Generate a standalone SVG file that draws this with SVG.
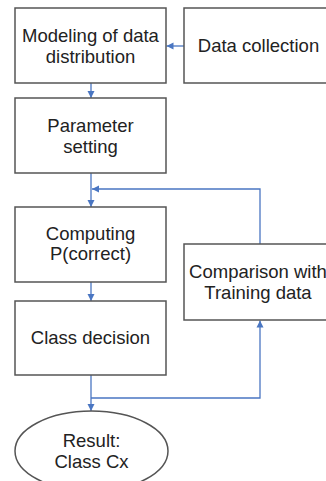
<svg xmlns="http://www.w3.org/2000/svg" width="326" height="481" viewBox="0 0 326 481">
<style>
.box{fill:#fff;stroke:#555;stroke-width:1.5}
.t{font-family:"Liberation Sans",Arial,sans-serif;font-size:18.5px;fill:#222;text-anchor:middle}
.c{fill:none;stroke:#4A76C2;stroke-width:1.3}
</style>
<defs>
<marker id="ah" viewBox="0 0 10 10" refX="10" refY="5" markerWidth="7" markerHeight="8" markerUnits="userSpaceOnUse" orient="auto">
<path d="M0,0 L10,5 L0,10 z" fill="#4A76C2"/>
</marker>
</defs>
<rect width="326" height="481" fill="#fff"/>
<g id="connectors">
<path class="c" d="M184,46 H166.5" marker-end="url(#ah)"/>
<path class="c" d="M91,83 V98" marker-end="url(#ah)"/>
<path class="c" d="M91,173 V207" marker-end="url(#ah)"/>
<path class="c" d="M260,244 V189 H92" marker-end="url(#ah)"/>
<path class="c" d="M91,282 V301" marker-end="url(#ah)"/>
<path class="c" d="M91,375 V411" marker-end="url(#ah)"/>
<path class="c" d="M91,398 H260 V320.5" marker-end="url(#ah)"/>
</g>
<g id="modeling">
<rect class="box" x="15" y="8" width="151" height="75"/>
<text class="t" x="90.5" y="41.5">Modeling of data</text>
<text class="t" x="90.5" y="62.5">distribution</text>
</g>
<g id="datacollection">
<rect class="box" x="184" y="8" width="150" height="75"/>
<text class="t" x="258.5" y="51.5">Data collection</text>
</g>
<g id="parameter">
<rect class="box" x="15" y="98" width="151" height="75"/>
<text class="t" x="90.5" y="132">Parameter</text>
<text class="t" x="90.5" y="153">setting</text>
</g>
<g id="computing">
<rect class="box" x="15" y="207" width="151" height="75"/>
<text class="t" x="90.5" y="239.5">Computing</text>
<text class="t" x="90.5" y="259.5">P(correct)</text>
</g>
<g id="comparison">
<rect class="box" x="184" y="244" width="150" height="76"/>
<text class="t" x="258" y="278">Comparison with</text>
<text class="t" x="258" y="299">Training data</text>
</g>
<g id="classdecision">
<rect class="box" x="15" y="301" width="151" height="74"/>
<text class="t" x="90.5" y="343.5">Class decision</text>
</g>
<g id="result">
<ellipse class="box" cx="91.5" cy="451" rx="76.5" ry="40"/>
<text class="t" x="91.5" y="447">Result:</text>
<text class="t" x="91.5" y="468">Class Cx</text>
</g>
</svg>
